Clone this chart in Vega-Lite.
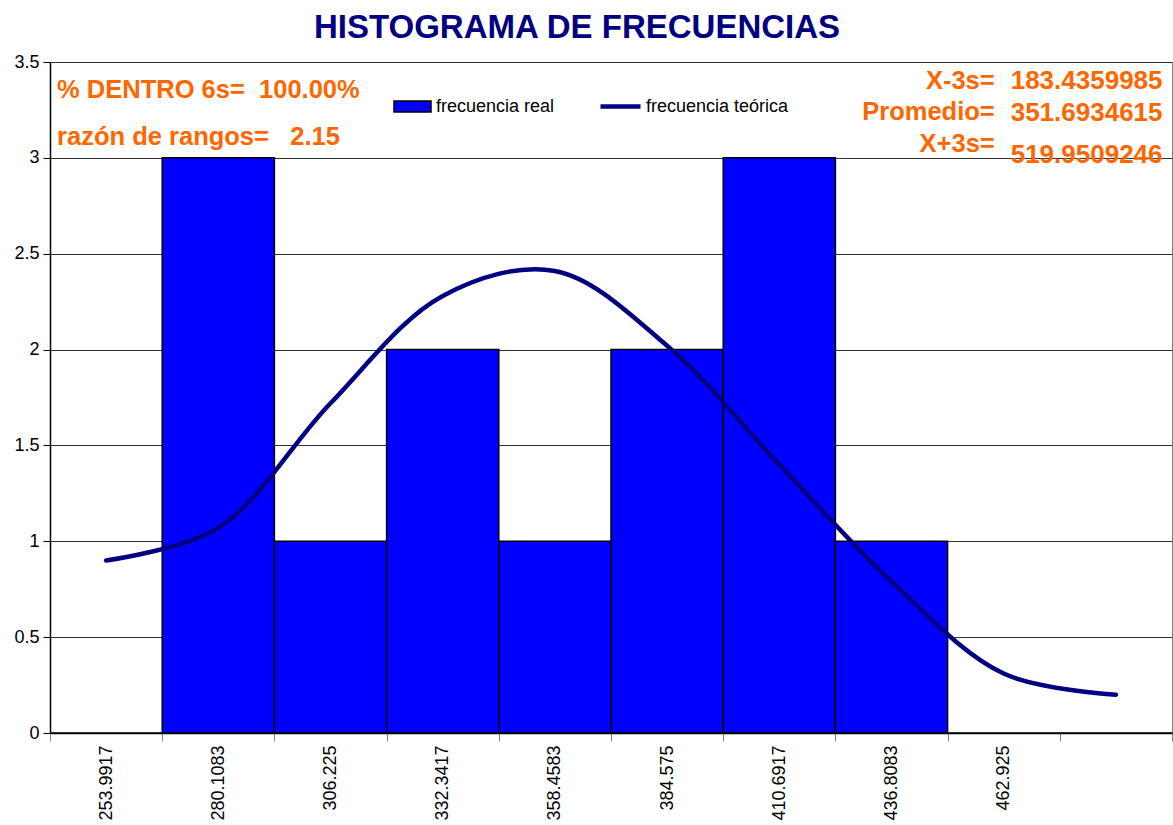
{
  "$schema": "https://vega.github.io/schema/vega-lite/v6.json",
  "width": 1122,
  "height": 671,
  "autosize": {"type": "none"},
  "padding": {"left": 50, "top": 62, "right": 1, "bottom": 92},
  "background": "white",
  "title": {
    "text": "HISTOGRAMA DE FRECUENCIAS",
    "fontSize": 33,
    "font": "Liberation Sans",
    "fontWeight": "bold",
    "color": "#000080",
    "anchor": "middle",
    "dx": -34,
    "offset": 8
  },
  "config": {
    "font": "Liberation Sans",
    "view": {"stroke": "#808080", "strokeWidth": 1}
  },
  "data": {
    "values": [
      {"clase": "253.9917", "real": 0, "teorica": 0.90},
      {"clase": "280.1083", "real": 3, "teorica": 1.07},
      {"clase": "306.225", "real": 1, "teorica": 1.72},
      {"clase": "332.3417", "real": 2, "teorica": 2.28},
      {"clase": "358.4583", "real": 1, "teorica": 2.41},
      {"clase": "384.575", "real": 2, "teorica": 2.02},
      {"clase": "410.6917", "real": 3, "teorica": 1.40},
      {"clase": "436.8083", "real": 1, "teorica": 0.79},
      {"clase": "462.925", "real": 0, "teorica": 0.31},
      {"clase": " ", "real": 0, "teorica": 0.20}
    ]
  },
  "encoding": {
    "x": {
      "field": "clase",
      "type": "nominal",
      "sort": null,
      "scale": {"paddingInner": 0, "paddingOuter": 0},
      "axis": {
        "title": null,
        "labelAngle": -90,
        "labelAlign": "right",
        "labelBaseline": "middle",
        "labelFontSize": 18,
        "labelColor": "black",
        "labelPadding": 4,
        "tickBand": "extent",
        "tickSize": 8,
        "tickColor": "#808080",
        "domainColor": "black",
        "domainWidth": 1.5,
        "grid": false
      }
    }
  },
  "layer": [
    {
      "mark": {"type": "bar", "stroke": "black", "strokeWidth": 1.5},
      "encoding": {
        "y": {
          "field": "real",
          "type": "quantitative",
          "scale": {"domain": [0, 3.5], "nice": false},
          "axis": {
            "title": null,
            "values": [0, 0.5, 1, 1.5, 2, 2.5, 3, 3.5],
            "format": "~g",
            "labelFontSize": 18,
            "labelColor": "black",
            "labelPadding": 4,
            "tickSize": 7,
            "tickColor": "black",
            "domainColor": "black",
            "domainWidth": 1.5,
            "grid": true,
            "gridColor": "#333333",
            "gridWidth": 1
          }
        },
        "fill": {
          "datum": "frecuencia real",
          "scale": {"range": ["#0000FF"]},
          "legend": {
            "orient": "none",
            "legendX": 343,
            "legendY": 25,
            "padding": 0,
            "title": null,
            "symbolType": "M-1,-0.3H1V0.3H-1Z",
            "symbolSize": 1369,
            "symbolStrokeColor": "black",
            "symbolStrokeWidth": 1.5,
            "labelFontSize": 18,
            "labelColor": "black",
            "labelOffset": 4
          }
        }
      }
    },
    {
      "mark": {"type": "line", "interpolate": "catmull-rom", "strokeWidth": 4.5, "strokeCap": "round"},
      "encoding": {
        "y": {"field": "teorica", "type": "quantitative"},
        "stroke": {
          "datum": "frecuencia teórica",
          "scale": {"range": ["#000080"]},
          "legend": {
            "orient": "none",
            "legendX": 548,
            "legendY": 22,
            "padding": 0,
            "title": null,
            "symbolType": "stroke",
            "symbolSize": 1600,
            "symbolStrokeWidth": 4.5,
            "labelFontSize": 18,
            "labelColor": "black",
            "labelOffset": 3
          }
        }
      }
    },
    {
      "data": {"values": [{}]},
      "mark": {"type": "text", "text": "% DENTRO 6s=\u00a0\u00a0100.00%", "align": "left", "baseline": "alphabetic", "dx": -49, "fontSize": 25.5, "fontWeight": "bold", "color": "#FF6600"},
      "encoding": {"x": {"datum": "253.9917"}, "y": {"datum": 3.312, "type": "quantitative"}}
    },
    {
      "data": {"values": [{}]},
      "mark": {"type": "text", "text": "razón de rangos=\u00a0\u00a0\u00a02.15", "align": "left", "baseline": "alphabetic", "dx": -49, "fontSize": 25.5, "fontWeight": "bold", "color": "#FF6600"},
      "encoding": {"x": {"datum": "253.9917"}, "y": {"datum": 3.067, "type": "quantitative"}}
    },
    {
      "data": {"values": [{}]},
      "mark": {"type": "text", "text": "X-3s=", "align": "right", "baseline": "alphabetic", "dx": -9, "fontSize": 25.5, "fontWeight": "bold", "color": "#FF6600"},
      "encoding": {"x": {"datum": "462.925"}, "y": {"datum": 3.359, "type": "quantitative"}}
    },
    {
      "data": {"values": [{}]},
      "mark": {"type": "text", "text": "Promedio=", "align": "right", "baseline": "alphabetic", "dx": -9, "fontSize": 25.5, "fontWeight": "bold", "color": "#FF6600"},
      "encoding": {"x": {"datum": "462.925"}, "y": {"datum": 3.195, "type": "quantitative"}}
    },
    {
      "data": {"values": [{}]},
      "mark": {"type": "text", "text": "X+3s=", "align": "right", "baseline": "alphabetic", "dx": -9, "fontSize": 25.5, "fontWeight": "bold", "color": "#FF6600"},
      "encoding": {"x": {"datum": "462.925"}, "y": {"datum": 3.03, "type": "quantitative"}}
    },
    {
      "data": {"values": [{}]},
      "mark": {"type": "text", "text": "183.4359985", "align": "left", "baseline": "alphabetic", "dx": 7, "fontSize": 26, "fontWeight": "bold", "color": "#FF6600"},
      "encoding": {"x": {"datum": "462.925"}, "y": {"datum": 3.359, "type": "quantitative"}}
    },
    {
      "data": {"values": [{}]},
      "mark": {"type": "text", "text": "351.6934615", "align": "left", "baseline": "alphabetic", "dx": 7, "fontSize": 26, "fontWeight": "bold", "color": "#FF6600"},
      "encoding": {"x": {"datum": "462.925"}, "y": {"datum": 3.19, "type": "quantitative"}}
    },
    {
      "data": {"values": [{}]},
      "mark": {"type": "text", "text": "519.9509246", "align": "left", "baseline": "alphabetic", "dx": 7, "fontSize": 26, "fontWeight": "bold", "color": "#FF6600"},
      "encoding": {"x": {"datum": "462.925"}, "y": {"datum": 2.973, "type": "quantitative"}}
    }
  ]
}
